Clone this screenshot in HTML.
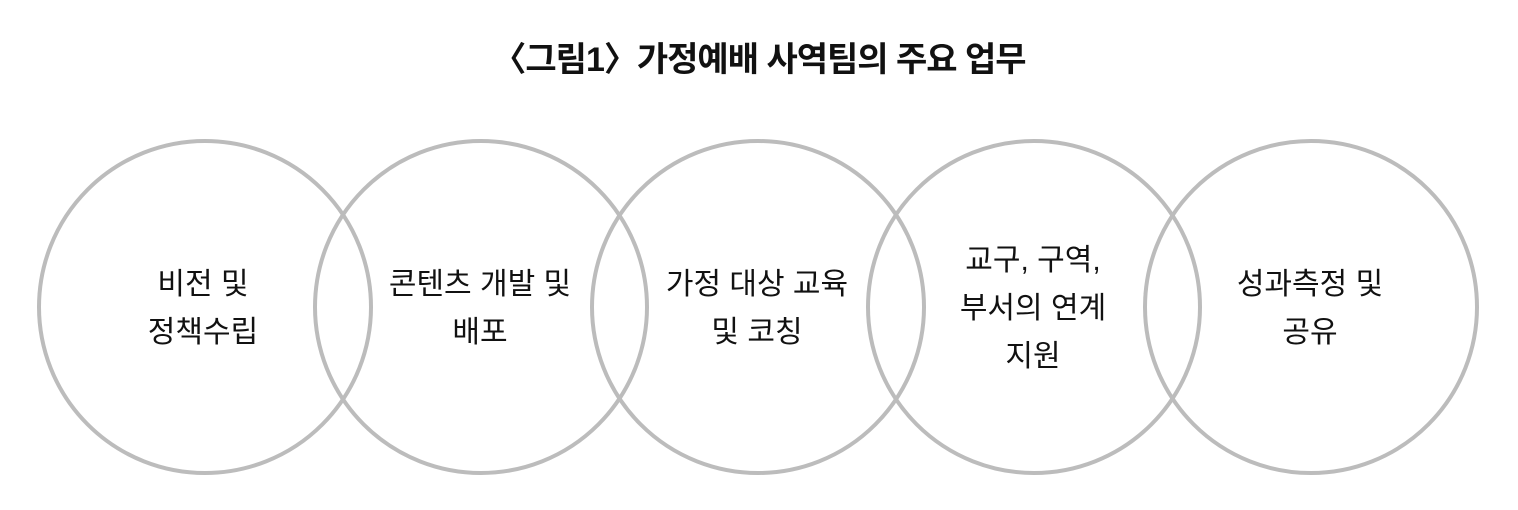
<!DOCTYPE html>
<html><head><meta charset="utf-8"><style>
html,body{margin:0;padding:0;background:#fff;}
body{width:1518px;height:510px;position:relative;overflow:hidden;font-family:"Liberation Sans","Noto Sans CJK KR",sans-serif;}
.t{position:absolute;left:0;width:1518px;top:32px;text-align:center;font-size:34px;font-weight:bold;color:#111;letter-spacing:-1px;}
.l{position:absolute;width:300px;text-align:center;font-size:30px;line-height:48px;color:#111;}
</style></head><body>
<div class="t">〈그림1〉가정예배 사역팀의 주요 업무</div>
<svg width="1518" height="510" style="position:absolute;left:0;top:0">
<g fill="none" stroke="#bcbcbc" stroke-width="4">
<circle cx="205" cy="307" r="166"/>
<circle cx="481" cy="307" r="166"/>
<circle cx="758" cy="307" r="166"/>
<circle cx="1034" cy="307" r="166"/>
<circle cx="1311" cy="307" r="166"/>
</g></svg>
<div class="l" style="left:53px;top:261px">비전 및<br>정책수립</div>
<div class="l" style="left:330px;top:261px">콘텐츠 개발 및<br>배포</div>
<div class="l" style="left:607px;top:261px">가정 대상 교육<br>및 코칭</div>
<div class="l" style="left:883px;top:237px">교구, 구역,<br>부서의 연계<br>지원</div>
<div class="l" style="left:1160px;top:261px">성과측정 및<br>공유</div>
</body></html>
